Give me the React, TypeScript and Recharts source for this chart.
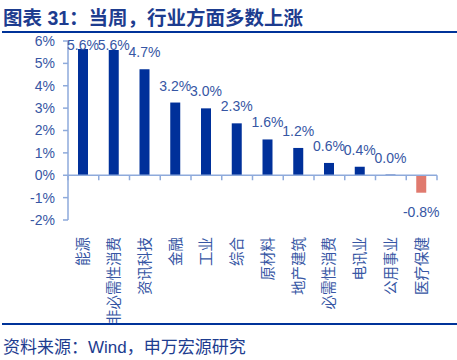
import { Bar, BarChart, Cell, LabelList, ReferenceLine, XAxis, YAxis } from "recharts"

const industries = ["能源", "非必需性消费", "资讯科技", "金融", "工业", "综合", "原材料", "地产建筑", "必需性消费", "电讯业", "公用事业", "医疗保健"]
const weeklyChange = [5.64, 5.6, 4.74, 3.25, 2.99, 2.32, 1.6, 1.22, 0.55, 0.38, 0.03, -0.78]
const valueLabels = ["5.6%", "5.6%", "4.7%", "3.2%", "3.0%", "2.3%", "1.6%", "1.2%", "0.6%", "0.4%", "0.0%", "-0.8%"]
const yTicks = [-2, -1, 0, 1, 2, 3, 4, 5, 6]

const data = industries.map((name, i) => ({ name, value: weeklyChange[i], label: valueLabels[i] }))

const FONT = "'Liberation Sans', Arial, 'Noto Sans CJK SC', sans-serif"
const TEXT = "#3656a4"
const AXIS = "#8eaadb"
const BAR = "#00309a"
const NEG = "#e07a6e"

function CategoryTick(props: any) {
  const { x, y, payload } = props
  return (
    <text
      x={x}
      y={y + 9}
      transform={`rotate(-90 ${x} ${y + 9})`}
      textAnchor="end"
      dominantBaseline="central"
      fill={TEXT}
      fontSize={14.5}
      fontFamily={FONT}
    >
      {payload.value}
    </text>
  )
}

function ValueLabel(props: any) {
  const { x, y, width, height, index } = props
  const v = weeklyChange[index]
  const cx = x + width / 2
  const top = Math.min(y, y + height)
  const bottom = Math.max(y, y + height)
  const ty = v >= 0 ? Math.max(top - 12, 50) : bottom + 24
  return (
    <text x={cx} y={ty} textAnchor="middle" fill={TEXT} fontSize={14} fontFamily={FONT}>
      {valueLabels[index]}
    </text>
  )
}

function ZeroAxis(props: any) {
  const { x1, y1, x2 } = props
  const n = industries.length
  const step = (x2 - x1) / n
  return (
    <g>
      <line x1={x1} y1={y1} x2={x2} y2={y1} stroke={AXIS} strokeWidth={1.5} />
      {Array.from({ length: n + 1 }, (_, i) => (
        <line key={i} x1={x1 + step * i} y1={y1} x2={x1 + step * i} y2={y1 + 5} stroke={AXIS} strokeWidth={1.5} />
      ))}
    </g>
  )
}

export default function App() {
  return (
    <div style={{ position: "absolute", left: 0, top: 0, width: 457, height: 360, background: "#fff", fontFamily: FONT }}>
      <div
        style={{
          position: "absolute",
          left: 3,
          top: 2,
          fontSize: 19.5,
          fontWeight: "bold",
          color: "#1d3c8f",
          whiteSpace: "nowrap",
        }}
      >
        图表 31：当周，行业方面多数上涨
      </div>
      <div style={{ position: "absolute", left: 2, top: 31, width: 455, height: 2, background: "#003399" }} />
      <BarChart
        width={457}
        height={360}
        data={data}
        margin={{ top: 41, right: 20, left: 0, bottom: 0 }}
        barCategoryGap={0}
      >
        <XAxis dataKey="name" axisLine={false} tickLine={false} height={140} interval={0} tick={<CategoryTick />} />
        <YAxis
          domain={[-2, 6]}
          ticks={yTicks}
          width={68}
          interval={0}
          axisLine={{ stroke: AXIS, strokeWidth: 1.5 }}
          tickLine={{ stroke: AXIS, strokeWidth: 1.5 }}
          tickSize={5}
          tickMargin={8}
          tick={{ fill: TEXT, fontSize: 14, fontFamily: FONT }}
          tickFormatter={(v) => `${v}%`}
        />
        <ReferenceLine y={0} shape={<ZeroAxis />} />
        <Bar dataKey="value" barSize={10} isAnimationActive={false}>
          {data.map((d, i) => (
            <Cell key={i} fill={d.value < 0 ? NEG : BAR} />
          ))}
          <LabelList dataKey="label" content={<ValueLabel />} />
        </Bar>
      </BarChart>
      <div style={{ position: "absolute", left: 2, top: 323, width: 455, height: 2, background: "#003399" }} />
      <div style={{ position: "absolute", left: 3, top: 333, fontSize: 17, color: "#1d3c8f", whiteSpace: "nowrap" }}>
        资料来源：Wind，申万宏源研究
      </div>
    </div>
  )
}
